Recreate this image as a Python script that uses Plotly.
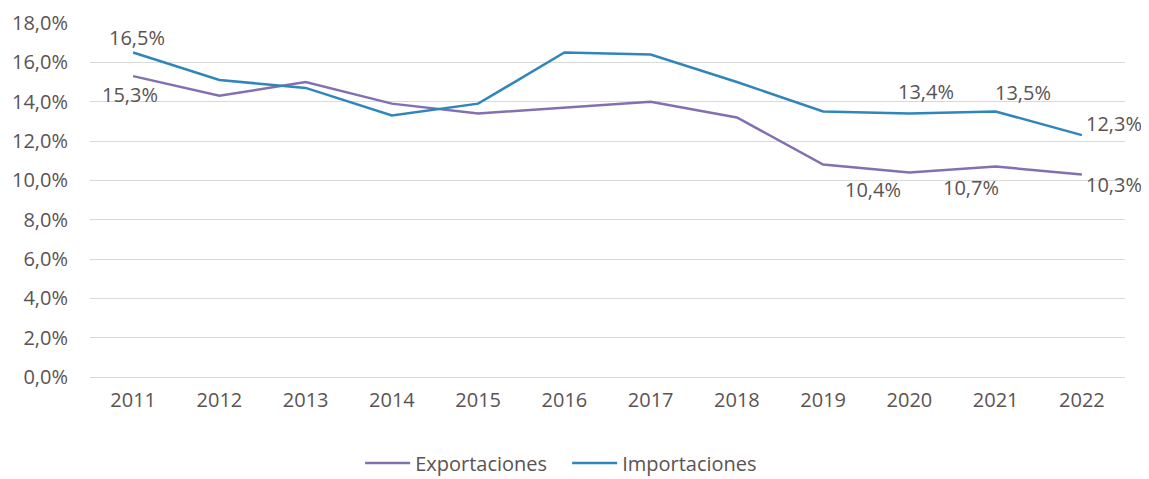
import plotly.graph_objects as go

years = ["2011", "2012", "2013", "2014", "2015", "2016", "2017", "2018", "2019", "2020", "2021", "2022"]
exportaciones = [15.3, 14.3, 15.0, 13.9, 13.4, 13.7, 14.0, 13.2, 10.8, 10.4, 10.7, 10.3]
importaciones = [16.5, 15.1, 14.7, 13.3, 13.9, 16.5, 16.4, 15.0, 13.5, 13.4, 13.5, 12.3]
y_ticks = [0, 2, 4, 6, 8, 10, 12, 14, 16, 18]
y_ticktext = ["0,0%", "2,0%", "4,0%", "6,0%", "8,0%", "10,0%", "12,0%", "14,0%", "16,0%", "18,0%"]

# labelled points: (year index, label, anchor, xshift, yshift)
exp_labels = [(0, "15,3%", "center", -3, -18), (9, "10,4%", "center", -36, -17),
              (10, "10,7%", "center", -25, -21), (11, "10,3%", "left", 2, -10)]
imp_labels = [(0, "16,5%", "center", 4, 15), (9, "13,4%", "center", 17, 22),
              (10, "13,5%", "center", 27, 19), (11, "12,3%", "left", 2, 12)]

PURPLE = "#8270b0"
BLUE = "#2f86bb"
TXT = "#5b5353"
FONT = "Open Sans, sans-serif"

fig = go.Figure()
fig.add_trace(go.Scatter(x=years, y=exportaciones, mode="lines", name="Exportaciones",
                         line=dict(color=PURPLE, width=2.5)))
fig.add_trace(go.Scatter(x=years, y=importaciones, mode="lines", name="Importaciones",
                         line=dict(color=BLUE, width=2.5)))

annotations = []
for series, labels in ((exportaciones, exp_labels), (importaciones, imp_labels)):
    for i, txt, anchor, xs, ys in labels:
        annotations.append(dict(x=i, y=series[i], xref="x", yref="y", text=txt, showarrow=False,
                                xanchor=anchor, yanchor="middle", xshift=xs, yshift=ys,
                                font=dict(size=20, color=TXT, family=FONT)))

fig.update_layout(
    width=1141, height=471,
    margin=dict(l=82, r=24, t=15, b=102, autoexpand=False),
    plot_bgcolor="white", paper_bgcolor="white",
    font=dict(family=FONT, size=20, color=TXT),
    xaxis=dict(type="category", range=[-0.5, 11.5], showgrid=False, showline=False,
               ticks="outside", ticklen=5, tickcolor="rgba(0,0,0,0)",
               tickfont=dict(size=20, color=TXT)),
    yaxis=dict(range=[0, 18], tickvals=y_ticks, ticktext=y_ticktext, tickmode="array",
               showgrid=True, gridcolor="#d9d9d9", gridwidth=1, zeroline=True,
               zerolinecolor="#d9d9d9", zerolinewidth=1, showline=False,
               ticks="outside", ticklen=17, tickcolor="rgba(0,0,0,0)",
               tickfont=dict(size=20, color=TXT)),
    legend=dict(orientation="h", x=0.461, xanchor="center", y=-0.243, yanchor="middle",
                font=dict(size=20, color=TXT), entrywidth=147, itemwidth=45),
    annotations=annotations,
    showlegend=True,
)

fig.write_html("out.html")
